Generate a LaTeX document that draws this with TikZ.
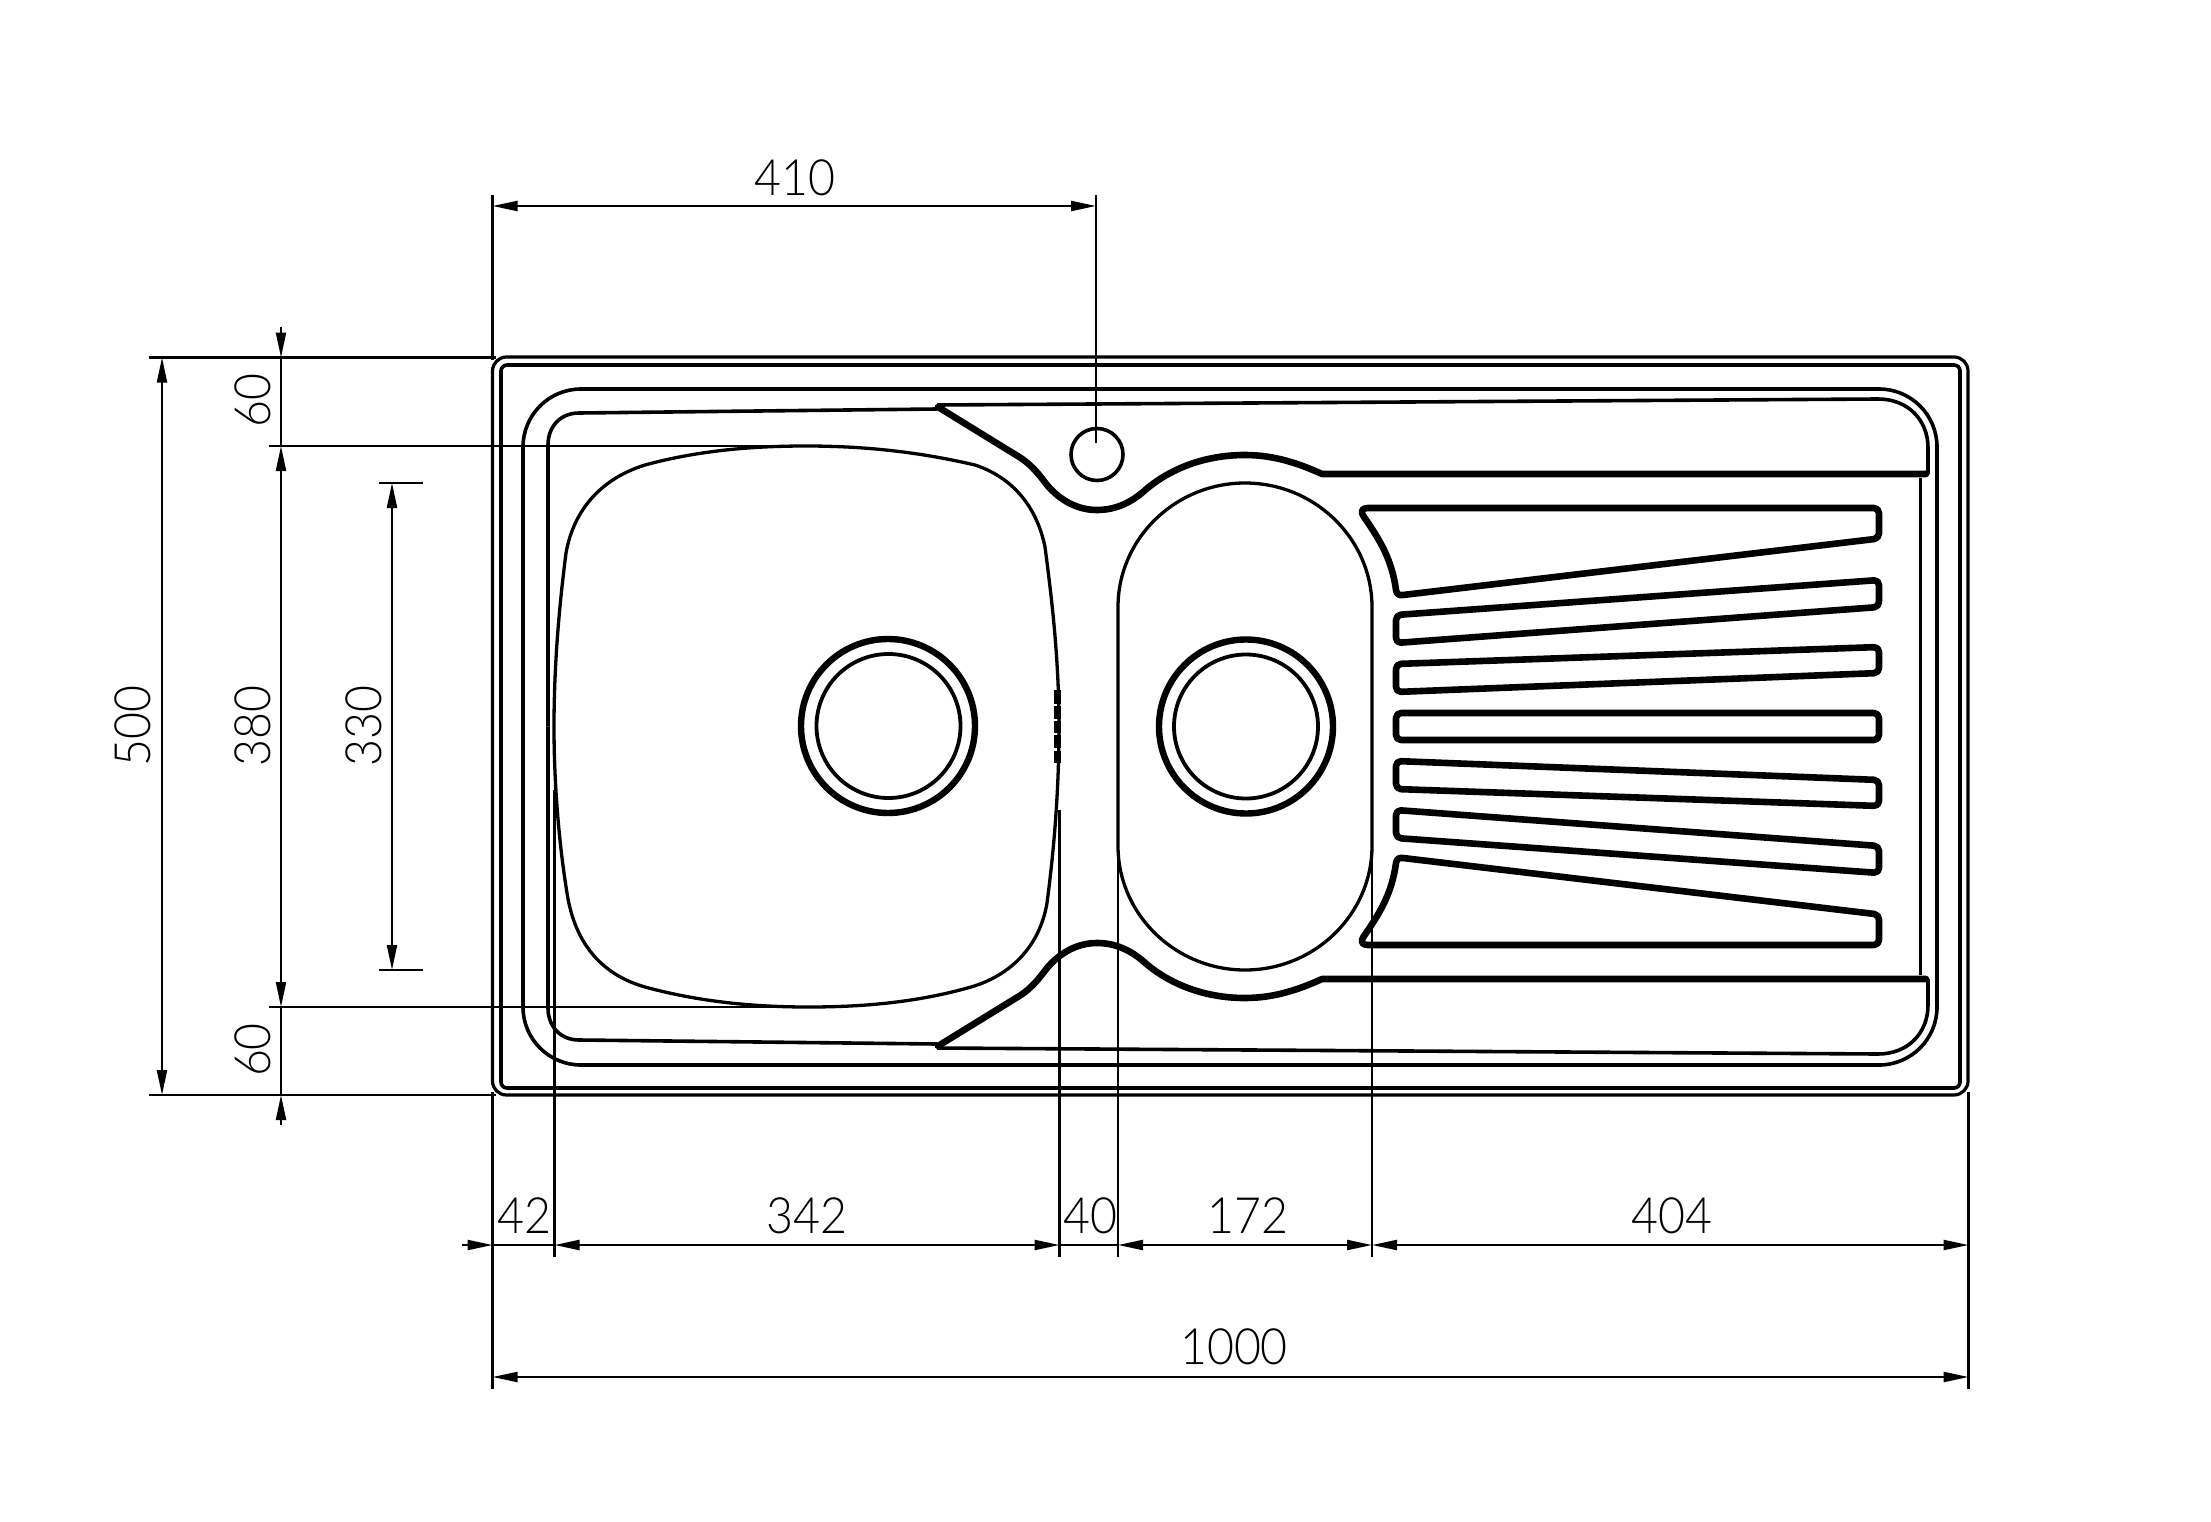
\documentclass[tikz,border=0pt]{standalone}
\usepackage{fontspec}
\setmainfont{Lato}[UprightFont={* Light},FakeStretch=0.93]
\usetikzlibrary{arrows.meta}
\tikzset{
  dimtip/.tip={Triangle[length=25pt,width=10pt]},
  dimline/.style={line width=2.2pt},
  extline/.style={line width=2.2pt},
  sheet/.style={line width=3.6pt,line join=round},
  thinsheet/.style={line width=3.3pt},
  band/.style={line width=6.6pt,line join=round,line cap=round},
  slotline/.style={line width=6.6pt,line join=round},
  dimtext/.style={inner sep=0pt,font=\fontsize{50}{50}\selectfont}
}
\newcommand{\upperband}{
  \draw[band] (1926,474) -- (1322,474)
    .. controls (1300,464) and (1275,455) .. (1245,455)
    .. controls (1200,455) and (1165,472) .. (1143,492)
    .. controls (1130,503) and (1115,510) .. (1097,510)
    .. controls (1075,510) and (1058,498) .. (1047,485)
    .. controls (1038,473) and (1030,463) .. (1016,455)
    -- (938,407);
  \draw[sheet] (937,405) -- (1878,399)
    .. controls (1908,399) and (1928,420) .. (1928,448) -- (1928,474);
  \draw[sheet] (937,409) -- (579,413)
    .. controls (560,413) and (548,427) .. (548,445) -- (548,726.5);
  \draw[slotline] (1368,508) [rounded corners=5pt] -- (1879,508) -- (1879,538.5) [sharp corners]
    -- (1403,595) .. controls (1398,595.5) and (1397,594) .. (1396,590)
    .. controls (1392,560) and (1380,540) .. (1364,517)
    .. controls (1360,511) and (1362,508) .. (1368,508) -- cycle;
  \draw[slotline,rounded corners=5pt] (1396,615) -- (1879,580) -- (1879,607) -- (1396,643) -- cycle;
  \draw[slotline,rounded corners=5pt] (1396,664) -- (1879,647) -- (1879,673) -- (1396,692) -- cycle;
}
\begin{document}
\begin{tikzpicture}[x=1pt,y=-1pt]
\useasboundingbox (0,0) rectangle (2211,1522);
% outer sheet
\draw[line width=3.2pt,rounded corners=14pt] (492.5,357) rectangle (1968,1095);
\draw[sheet,rounded corners=6pt] (501,365) rectangle (1960,1088);
\draw[sheet,rounded corners=58pt] (523,389) rectangle (1937,1065);
% mirrored upper and lower halves
\upperband
\begin{scope}[shift={(0,1453)},yscale=-1]
\upperband
\end{scope}
\draw[thinsheet] (1920.5,478) -- (1920.5,975);
\draw[slotline,rounded corners=5pt] (1396,713) rectangle (1879,740);
% large bowl
\draw[thinsheet] (554,727)
  .. controls (554,660) and (560,600) .. (566,553)
  .. controls (574,508) and (603,478) .. (645,465)
  .. controls (700,450) and (755,446) .. (806,446)
  .. controls (860,446) and (915,451) .. (975,465)
  .. controls (1014,478) and (1037,508) .. (1045,547)
  .. controls (1052,600) and (1059,660) .. (1059,727)
  .. controls (1059,790) and (1054,850) .. (1047,903)
  .. controls (1040,945) and (1012,975) .. (971,987)
  .. controls (915,1003) and (860,1007) .. (808,1007)
  .. controls (755,1007) and (700,1002) .. (645,987)
  .. controls (603,975) and (575,945) .. (567,893)
  .. controls (560,850) and (554,790) .. (554,727) -- cycle;
% small bowl
\draw[thinsheet] (1118,607)
  .. controls (1118,539) and (1175,483) .. (1245,483)
  .. controls (1315,483) and (1372,539) .. (1372,607)
  -- (1372,846)
  .. controls (1372,914) and (1315,970) .. (1245,970)
  .. controls (1175,970) and (1118,914) .. (1118,846) -- cycle;
% wastes and tap hole
\draw[line width=6.4pt] (888,726) circle [radius=87];
\draw[line width=3.8pt] (888.5,726) circle [radius=72];
\draw[line width=6.4pt] (1246,726.5) circle [radius=87];
\draw[line width=3.8pt] (1246,726.5) circle [radius=72];
\draw[sheet] (1097,454.5) circle [radius=26];
% overflow ticks
\foreach \a/\b in {690/704,706/719,721/733,735/748,751/763}
  \fill (1053.5,\a) rectangle (1060.5,\b);
% extension lines
\draw[extline] (1096,195) -- (1096,443);
\draw[extline] (492.5,195) -- (492.5,360);
\draw[extline] (149,357.5) -- (496,357.5);
\draw[extline] (269,446) -- (775,446);
\draw[extline] (379,483) -- (423,483);
\draw[extline] (379,970) -- (423,970);
\draw[extline] (269,1007) -- (775,1007);
\draw[extline] (149,1095) -- (496,1095);
\draw[extline] (492.5,1092) -- (492.5,1389);
\draw[extline] (554.5,790) -- (554.5,1257);
\draw[extline] (1059.5,810) -- (1059.5,1257);
\draw[extline] (1118,846) -- (1118,1257);
\draw[extline] (1372,846) -- (1372,1257);
\draw[extline] (1968.5,1092) -- (1968.5,1389);
% dimension lines
\draw[dimline,{dimtip}-{dimtip}] (492.5,206) -- (1096,206);
\draw[dimline,{dimtip}-{dimtip}] (162,357.5) -- (162,1095);
\draw[dimline,{dimtip}-{dimtip}] (392,483) -- (392,970);
\draw[dimline,{dimtip}-{dimtip}] (281,446) -- (281,1007);
\draw[dimline,-{dimtip}] (281,327) -- (281,357.5);
\draw[dimline] (281,357.5) -- (281,446);
\draw[dimline] (281,1007) -- (281,1095);
\draw[dimline,-{dimtip}] (281,1125) -- (281,1095);
\draw[dimline,-{dimtip}] (462,1245) -- (492.5,1245);
\draw[dimline] (492.5,1245) -- (554.5,1245);
\draw[dimline,{dimtip}-{dimtip}] (554.5,1245) -- (1059.5,1245);
\draw[dimline] (1059.5,1245) -- (1118,1245);
\draw[dimline,{dimtip}-{dimtip}] (1118,1245) -- (1372,1245);
\draw[dimline,{dimtip}-{dimtip}] (1372,1245) -- (1968.5,1245);
\draw[dimline,{dimtip}-{dimtip}] (492.5,1377) -- (1968.5,1377);
% labels
\node[dimtext] (t410) at (795,178) {410};
\node[dimtext,rotate=90] (t500) at (133,726) {500};
\node[dimtext,rotate=90] (t60a) at (253,400.5) {60};
\node[dimtext,rotate=90] (t380) at (253,726) {380};
\node[dimtext,rotate=90] (t60b) at (253,1050) {60};
\node[dimtext,rotate=90] (t330) at (364,726) {330};
\node[dimtext] (t42) at (524,1216) {42};
\node[dimtext] (t342) at (807,1216) {342};
\node[dimtext] (t40) at (1090,1216) {40};
\node[dimtext] (t172) at (1248,1216) {172};
\node[dimtext] (t404) at (1672,1216) {404};
\node[dimtext] (t1000) at (1234,1347) {1000};
\end{tikzpicture}
\end{document}
